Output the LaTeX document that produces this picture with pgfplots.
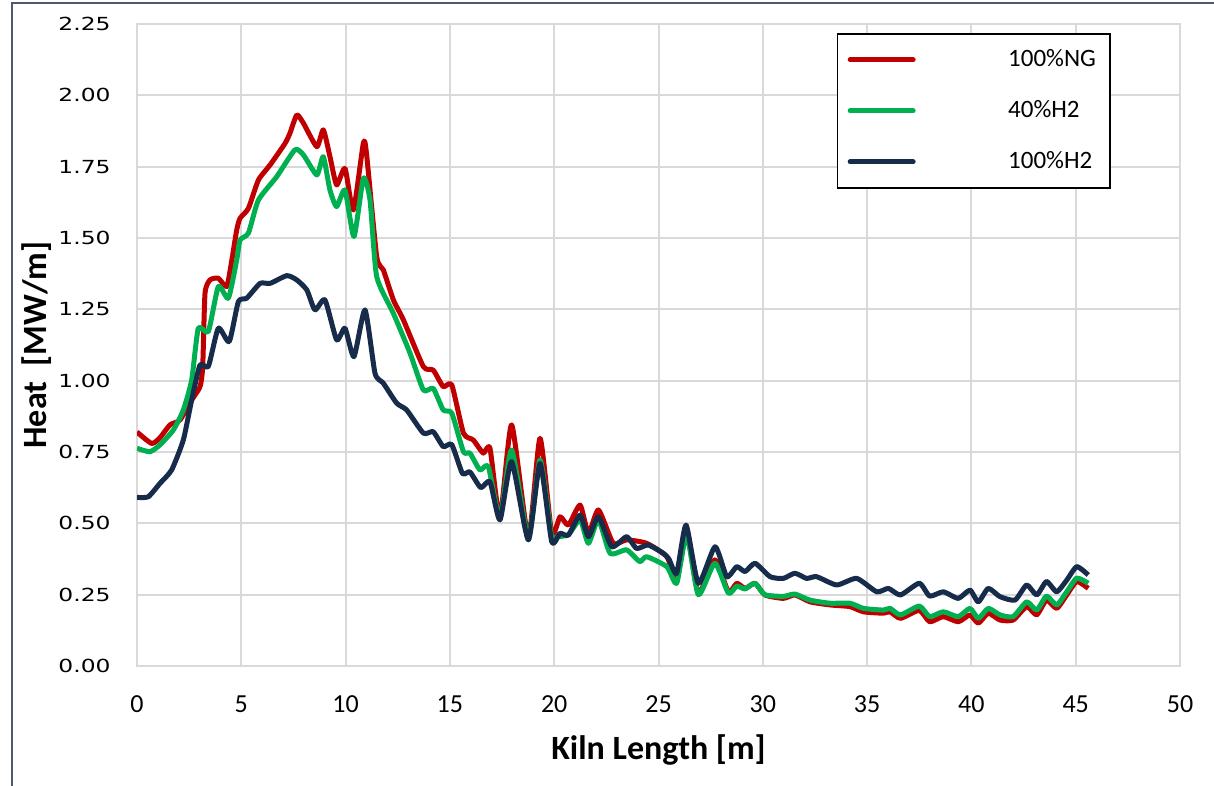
\documentclass[border=0pt]{standalone}
\usepackage{fontspec}
\usepackage{pgfplots}
\pgfplotsset{compat=1.18}
\setmainfont{Carlito}
\newfontfamily\yfont[FakeStretch=1.3]{DejaVu Sans}
\definecolor{ngred}{HTML}{C00000}
\definecolor{hgreen}{HTML}{00B050}
\definecolor{hnavy}{HTML}{162C4A}
\definecolor{gridgray}{HTML}{D9D9D9}
\definecolor{framecol}{HTML}{4A5A70}
\begin{document}
\begin{tikzpicture}
\useasboundingbox (0pt,0pt) rectangle (607pt,393pt);
\draw[framecol, line width=0.8pt] (6pt,0pt) -- (6pt,391.5pt) -- (607pt,391.5pt);
\begin{axis}[
  at={(68.5pt,60pt)}, anchor=south west,
  width=521.5pt, height=321pt, scale only axis,
  xmin=0, xmax=50, ymin=0, ymax=2.25,
  xtick={0,5,...,50}, ytick={0,0.25,...,2.25},
  grid=major, grid style={draw=gridgray, line width=1pt},
  axis line style={draw=gridgray, line width=1pt},
  major tick length=0pt,
  /pgf/number format/assume math mode=true,
  yticklabel={\pgfmathprintnumber[fixed,fixed zerofill,precision=2]{\tick}},
  yticklabel style={font=\yfont\fontsize{9}{10}\selectfont, anchor=east, inner sep=0pt, xshift=-13pt},
  xticklabel style={font=\fontsize{13}{14}\selectfont, anchor=center, inner sep=0pt, yshift=-19pt},
  xlabel={Kiln Length [m]},
  ylabel={Heat\ \ [MW/m]},
  xlabel style={font=\bfseries\fontsize{17}{18}\selectfont, at={(axis description cs:0.5,-0.1308)}, anchor=center},
  ylabel style={font=\bfseries\fontsize{17}{18}\selectfont, at={(axis description cs:-0.0959,0.5)}, anchor=center},
  legend style={at={(axis description cs:0.671,0.986)}, anchor=north west, draw=black, line width=0.8pt,
    font=\fontsize{12.5}{14}\selectfont, row sep=11.5pt, inner xsep=5pt, inner ysep=6pt},
  legend cell align=left,
  legend image code/.code={\draw[line width=2.5pt, line cap=round] (0pt,0pt) -- (31.5pt,0pt); \path[draw=none, fill=none] (0pt,0pt) rectangle (77pt,0pt);},
  every axis plot/.append style={line width=2.5pt, line join=round, smooth, tension=0.35},
]
\addplot[ngred] coordinates {
(0,0.82)(0.7,0.78)(1.1,0.80)(1.58,0.845)(2.06,0.862)(2.62,0.932)(3.02,0.979)(3.15,1.05)(3.26,1.306)(3.5,1.353)(3.9,1.359)(4.3,1.33)(4.54,1.42)(4.78,1.528)(4.94,1.569)(5.34,1.604)(5.82,1.703)(6.38,1.756)(7.1,1.832)(7.33,1.867)(7.66,1.931)(7.98,1.902)(8.62,1.82)(8.93,1.879)(9.25,1.785)(9.57,1.686)(9.97,1.744)(10.37,1.598)(10.85,1.832)(11.0,1.797)(11.49,1.435)(11.81,1.388)(12.29,1.283)(12.77,1.213)(13.73,1.049)(14.2,1.037)(14.68,0.979)(15.09,0.985)(15.65,0.816)(16.12,0.792)(16.6,0.746)(16.92,0.763)(17.4,0.52)(17.96,0.845)(18.76,0.453)(19.32,0.798)(19.88,0.465)(20.28,0.523)(20.68,0.494)(21.24,0.564)(21.64,0.465)(22.12,0.547)(22.83,0.43)(23.47,0.442)(24.43,0.43)(25.4,0.383)(25.87,0.30)(26.35,0.47)(26.91,0.255)(27.7,0.372)(28.35,0.26)(28.75,0.29)(29.15,0.272)(29.63,0.29)(30.1,0.249)(30.98,0.237)(31.54,0.249)(32.26,0.225)(33.22,0.214)(34.18,0.208)(34.82,0.19)(35.78,0.185)(36.1,0.19)(36.6,0.167)(37.5,0.195)(38.0,0.155)(38.65,0.173)(39.37,0.155)(39.93,0.179)(40.33,0.15)(40.81,0.185)(41.37,0.161)(42.0,0.161)(42.65,0.208)(43.13,0.179)(43.6,0.231)(44.09,0.202)(44.57,0.249)(45.05,0.296)(45.6,0.272)
};
\addlegendentry{100\%NG}
\addplot[hgreen] coordinates {
(0,0.763)(0.62,0.751)(1.1,0.775)(1.74,0.827)(2.22,0.897)(2.62,1.002)(2.94,1.184)(3.42,1.172)(3.9,1.33)(4.38,1.289)(4.78,1.423)(4.94,1.493)(5.34,1.517)(5.82,1.633)(6.7,1.715)(7.57,1.809)(7.98,1.791)(8.62,1.721)(8.93,1.785)(9.25,1.668)(9.57,1.61)(9.97,1.668)(10.4,1.505)(10.85,1.709)(11.17,1.633)(11.49,1.365)(12.29,1.236)(13.09,1.096)(13.73,0.967)(14.2,0.973)(14.68,0.897)(15.09,0.886)(15.65,0.751)(15.96,0.746)(16.44,0.687)(16.84,0.699)(17.4,0.52)(17.96,0.757)(18.76,0.45)(19.32,0.722)(19.88,0.45)(20.12,0.453)(20.68,0.46)(21.24,0.512)(21.64,0.43)(22.12,0.512)(22.68,0.395)(23.47,0.407)(24.1,0.366)(24.43,0.383)(25.4,0.348)(25.87,0.29)(26.35,0.46)(26.91,0.25)(27.7,0.36)(28.35,0.255)(28.75,0.28)(29.15,0.27)(29.63,0.29)(30.1,0.25)(30.98,0.244)(31.54,0.252)(32.26,0.231)(33.22,0.22)(34.18,0.22)(34.82,0.202)(35.78,0.196)(36.1,0.202)(36.6,0.179)(37.5,0.21)(38.0,0.173)(38.65,0.19)(39.37,0.173)(39.93,0.202)(40.33,0.167)(40.81,0.202)(41.37,0.179)(42.0,0.173)(42.65,0.225)(43.13,0.196)(43.6,0.245)(44.09,0.214)(44.57,0.26)(45.05,0.308)(45.6,0.29)
};
\addlegendentry{40\%H2}
\addplot[hnavy] coordinates {
(0,0.591)(0.54,0.593)(1.1,0.64)(1.66,0.687)(2.22,0.792)(2.62,0.932)(3.02,1.055)(3.42,1.05)(3.9,1.184)(4.42,1.137)(4.86,1.277)(5.26,1.289)(5.9,1.341)(6.38,1.341)(7.18,1.368)(7.66,1.353)(8.14,1.318)(8.53,1.248)(9.01,1.283)(9.57,1.143)(9.97,1.184)(10.4,1.084)(10.93,1.248)(11.41,1.026)(11.81,0.991)(12.45,0.921)(12.93,0.897)(13.73,0.816)(14.2,0.821)(14.68,0.769)(15.09,0.776)(15.6,0.675)(15.96,0.68)(16.48,0.625)(16.92,0.646)(17.4,0.512)(17.96,0.716)(18.76,0.442)(19.32,0.71)(19.88,0.436)(20.28,0.465)(20.68,0.459)(21.24,0.529)(21.64,0.453)(22.12,0.523)(22.76,0.418)(23.47,0.453)(23.95,0.412)(24.51,0.424)(25.23,0.395)(25.5,0.375)(25.87,0.325)(26.32,0.494)(26.91,0.29)(27.71,0.418)(28.27,0.313)(28.75,0.348)(29.15,0.331)(29.63,0.36)(30.35,0.313)(30.98,0.307)(31.54,0.325)(32.1,0.307)(32.58,0.313)(33.54,0.284)(34.5,0.307)(35.46,0.26)(36.02,0.272)(36.6,0.249)(37.5,0.29)(38.0,0.245)(38.65,0.26)(39.37,0.237)(39.93,0.266)(40.33,0.225)(40.81,0.272)(41.37,0.243)(42.09,0.231)(42.65,0.284)(43.13,0.249)(43.6,0.296)(44.09,0.26)(44.57,0.301)(45.05,0.348)(45.6,0.319)
};
\addlegendentry{100\%H2}
\end{axis}
\end{tikzpicture}
\end{document}
